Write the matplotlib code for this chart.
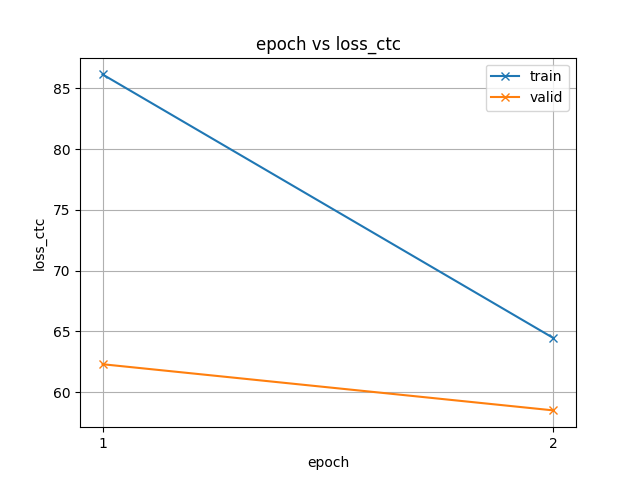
import matplotlib
matplotlib.use("Agg")
import matplotlib.pyplot as plt

epochs = [1, 2]
train_loss = [86.15, 64.45]
valid_loss = [62.3, 58.5]

fig, ax = plt.subplots(figsize=(6.4, 4.8), dpi=100)
ax.plot(epochs, train_loss, marker="x", label="train")
ax.plot(epochs, valid_loss, marker="x", label="valid")
ax.set_xticks(epochs)
ax.set_xlabel("epoch")
ax.set_ylabel("loss_ctc")
ax.set_title("epoch vs loss_ctc")
ax.legend()
ax.grid(True)
fig.savefig("out.png")
